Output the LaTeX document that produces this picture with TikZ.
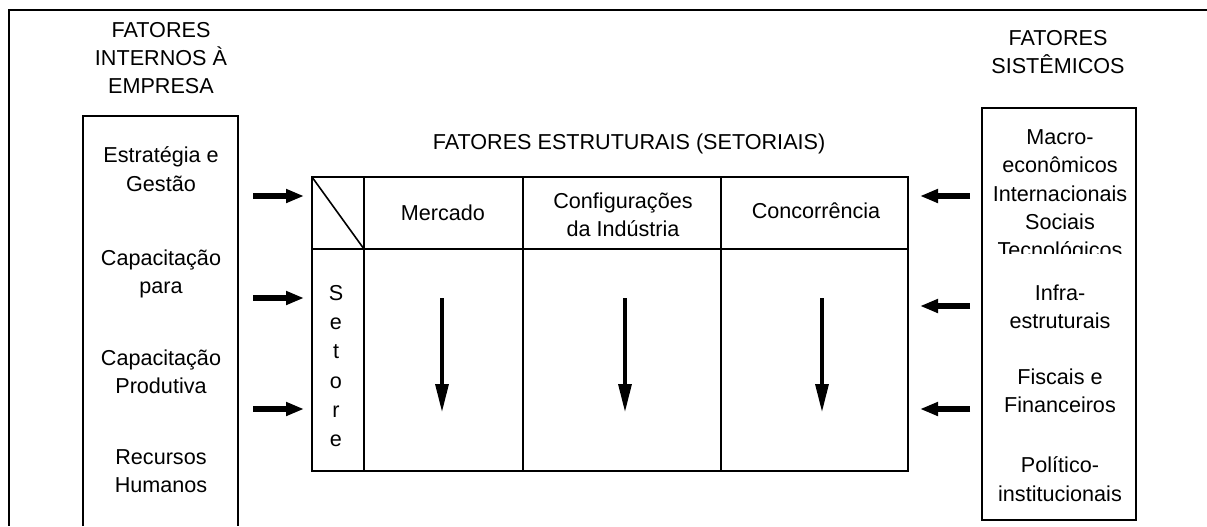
\documentclass[tikz,border=0pt]{standalone}
\usepackage{fontspec}
\setmainfont{Liberation Sans}
\usepackage{tikz}
\usetikzlibrary{arrows.meta}

\begin{document}
\begin{tikzpicture}[
    x=0.5pt, y=-0.5pt,
    texto/.style={align=center, font=\fontsize{10.8}{14.2}\selectfont},
    linha/.style={line width=0.8pt, black},
    seta grossa/.style={-{Triangle[length=9pt,width=6.5pt]}, line width=3pt},
    seta fina/.style={-{Triangle[length=14pt,width=6.5pt]}, line width=1.6pt}
]

\useasboundingbox (0,0) rectangle (1207,526);

% Moldura

\draw[
    line width=1.2pt
] (1207,10) -- (9,10) -- (9,526);


% Fatores internos

\node[texto] (titInt) at (161,58) {FATORES\\INTERNOS À\\EMPRESA};

\draw[linha] (83,526) -- (83,116) -- (238,116) -- (238,526);

\node[texto] (estr) at (161,169) {Estratégia e\\Gestão};
\node[texto] (capa) at (161,274) {Capacitação\\para};
\node[texto] (prod) at (161,372) {Capacitação\\Produtiva};
\node[texto] (rech) at (161,471) {Recursos\\Humanos};


% Fatores estruturais

\node[texto] (titEst) at (629,144) {FATORES ESTRUTURAIS (SETORIAIS)};

\draw[linha] (312,177) rectangle (908,471);
\draw[linha] (312,249) -- (908,249);
\draw[linha] (312,177) -- (364,249);
\foreach \xc in {364,523,721}
    \draw[linha] (\xc,177) -- (\xc,471);

\node[texto] (merc) at (443,213) {Mercado};
\node[texto] (conf) at (623,215) {Configurações\\da Indústria};
\node[texto] (conc) at (816,211) {Concorrência};

\node[
    align=center,
    font=\fontsize{10.8}{14.6}\selectfont
] (seto) at (336,366) {S\\e\\t\\o\\r\\e};

\foreach \xc/\nome in {442/mer,625/cfg,822/con} {
    \coordinate (\nome A) at (\xc,298);
    \coordinate (\nome B) at (\xc,412);
    \draw[seta fina] (\nome A) -- (\nome B);
}


% Fatores sistêmicos

\node[texto] (titSis) at (1058,52) {FATORES\\SISTÊMICOS};

\draw[linha] (982,108) rectangle (1136,520);

\begin{scope}
    \clip (982,108) rectangle (1136,253);
    \node[texto] (macr) at (1060,196) {Macro-\\econômicos\\Internacionais\\Sociais\\Tecnológicos};
\end{scope}

\node[texto] (infr) at (1060,307) {Infra-\\estruturais};
\node[texto] (fisc) at (1060,391) {Fiscais e\\Financeiros};
\node[texto] (poli) at (1060,479) {Político-\\institucionais};


% Setas horizontais

\foreach \yi/\ys/\k in {196/196/1,298/306/2,409/409/3} {
    \coordinate (int\k) at (253,\yi);
    \coordinate (tab\k) at (304,\yi);
    \coordinate (sis\k) at (970,\ys);
    \coordinate (dir\k) at (920,\ys);
    \draw[seta grossa] (int\k) -- (tab\k);
    \draw[seta grossa] (sis\k) -- (dir\k);
}

\end{tikzpicture}
\end{document}
